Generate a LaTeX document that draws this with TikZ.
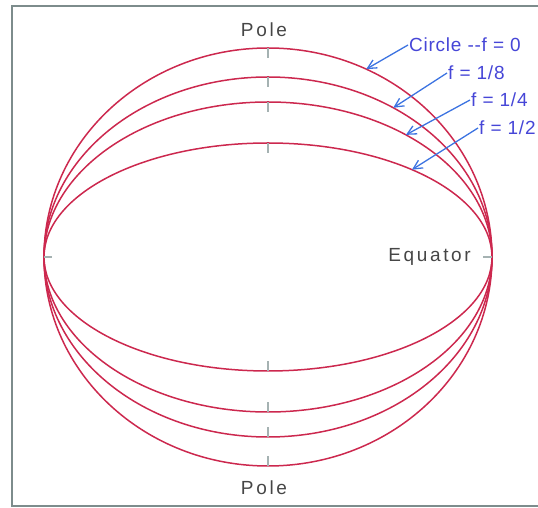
\documentclass[tikz,border=0pt]{standalone}
\usepackage{fontspec}
\setmainfont{Liberation Sans}
\usepackage{tikz}
\usetikzlibrary{arrows.meta, positioning, calc}
\definecolor{curvered}{RGB}{204,40,78}
\definecolor{tickgray}{RGB}{165,178,178}
\definecolor{framegray}{RGB}{125,140,140}
\definecolor{labelblue}{RGB}{70,70,215}
\definecolor{arrowblue}{RGB}{60,115,225}
\definecolor{textgray}{RGB}{70,70,70}

\begin{document}
\begin{tikzpicture}[
    x=1pt, y=1pt,
    curve/.style={draw=curvered, line width=1.5pt},
    tick/.style={draw=tickgray, line width=1.6pt},
    flab/.style={text=labelblue, font=\fontsize{19}{21}\selectfont\addfontfeatures{LetterSpace=4},
                 inner sep=1pt, anchor=west},
    plab/.style={text=textgray, font=\fontsize{19}{21}\selectfont\addfontfeatures{LetterSpace=14},
                 inner sep=1pt},
    arr/.style={-{Straight Barb[length=9pt, width=9pt]}, draw=arrowblue, line width=1.3pt}
  ]
    \useasboundingbox (0,0) rectangle (538,508);
    \draw[framegray, line width=2pt] (538,502) -- (11.5,502) -- (11.5,2) -- (538,2);

    \coordinate (ctr) at (268,251);

    % ellipses: f = 0, 1/8, 1/4, 1/2
    \foreach \b in {209,180,155,114} {
      \draw[curve] (ctr) ellipse [x radius=224, y radius=\b];
      \draw[tick] ($(ctr)+(0,\b)$) -- ++(0,-10);
      \draw[tick] ($(ctr)+(0,-\b)$) -- ++(0,10);
    }
    \draw[tick] ($(ctr)+(-224,0)$) -- ++(8,0);
    \draw[tick] ($(ctr)+(224,0)$) -- ++(-9,0);

    \node[plab] (poletop) at (264,478) {Pole};
    \node[plab] (polebot) at (264,20)  {Pole};
    \node[plab, anchor=east] (equator) at (472,251) {Equator};

    \node[flab] (lcircle) at (408,463) {Circle -{}-f = 0};
    \node[flab] (leighth) at (447,435) {f = 1/8};
    \node[flab] (lquart)  at (470,408) {f = 1/4};
    \node[flab] (lhalf)   at (478,380) {f = 1/2};

    \path (ctr) ++(64:224 and 209) coordinate (pcircle);
    \path (ctr) ++(56:224 and 180) coordinate (peighth);
    \path (ctr) ++(52:224 and 155) coordinate (pquart);
    \path (ctr) ++(50:224 and 114) coordinate (phalf);

    \draw[arr] (lcircle.west) -- (pcircle);
    \draw[arr] (leighth.west) -- (peighth);
    \draw[arr] (lquart.west)  -- (pquart);
    \draw[arr] (lhalf.west)   -- (phalf);

  \end{tikzpicture}
\end{document}
